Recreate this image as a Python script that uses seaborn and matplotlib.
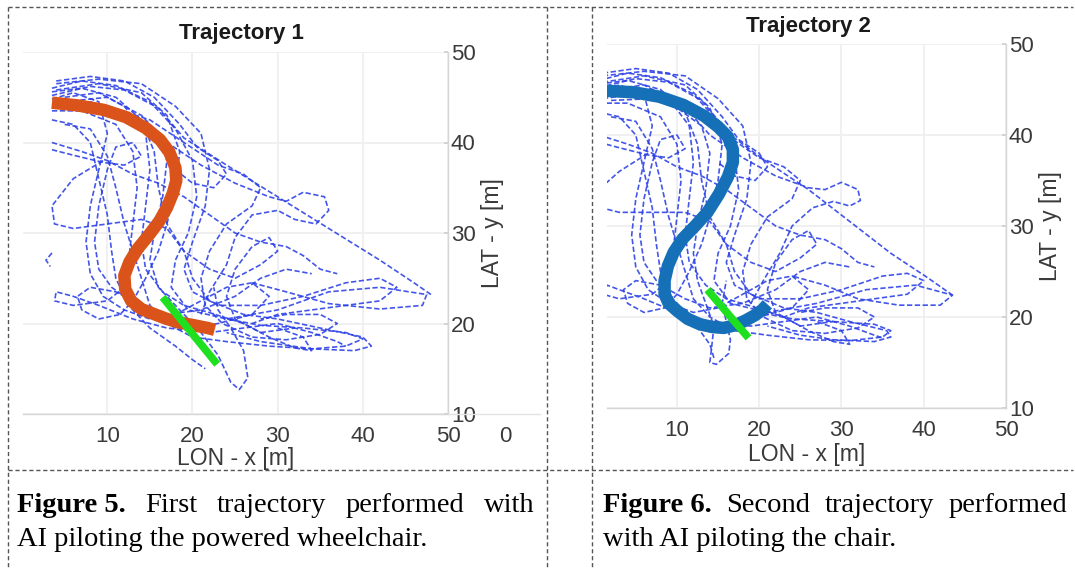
import matplotlib
matplotlib.use('Agg')
import matplotlib.pyplot as plt
import seaborn as sns
import pandas as pd
from matplotlib.lines import Line2D

W, H = 1075, 570

# ---------------- data (LON - x [m], LAT - y [m]) ----------------
xticks = [10, 20, 30, 40, 50]
yticks = [10, 20, 30, 40, 50]

# Trajectory 1: human driven runs (blue dashed)
t1_r01 = [(3.5, 46.0), (7, 46.8), (11, 46.3), (15, 44.5), (18, 41.5), (20, 38), (20.5, 34), (19.5, 30), (18, 27),
          (17.5, 24), (19.5, 21.5), (24, 20.5), (30, 21.5), (36, 23.5), (42, 24), (47.5, 23.2), (47, 22), (42, 21.6),
          (36, 22.2), (31, 23.5), (27, 24.5)]
t1_r02 = [(3.5, 45.2), (8, 46.2), (12, 45.8), (16, 43.8), (19, 40.5), (24, 37.5), (30, 34), (36, 30.5), (42, 27),
          (46, 24.5), (48, 23.2)]
t1_r03 = [(3.5, 44.8), (6, 45.5), (9, 44.5), (10, 41), (9, 37), (8, 33), (7.5, 29), (8, 25.5), (9.5, 23), (12, 21.5),
          (15, 20.5), (18, 21), (21, 22.5), (24, 24), (27, 24.5), (29, 23), (27, 21), (23, 20), (20, 19.5)]
t1_r04 = [(9.5, 38), (6, 36), (3.5, 33), (3.8, 31), (6, 30.5), (10, 31), (14, 31.5), (17, 30.5), (19, 28), (20, 25),
          (22, 22.5), (26, 21), (30, 20.5), (35, 19.5), (40, 18.5), (41, 17.5), (39, 17), (34, 17.2), (28, 18), (24, 19)]
t1_r05 = [(5, 44.5), (10, 45), (14, 43), (17, 40), (21, 37.5), (25, 35.5), (29, 34), (31, 33.5), (33, 34.5),
          (35.5, 34), (36, 32.5), (34.5, 31), (32, 31.5), (30, 32.5), (27, 32), (25, 29.5), (24, 26.5), (22, 23.5),
          (21, 21)]
t1_r06 = [(4, 44), (8, 44.5), (13, 43), (16, 41), (17, 38), (16.5, 34), (15.5, 30), (15, 27), (16, 24), (18.5, 21.5),
          (21, 19), (23, 16.5), (24.5, 13.5), (25.5, 12.7), (26.5, 14), (26, 17), (24.5, 19.5), (23, 21.5), (22.5, 24)]
t1_r07 = [(3.5, 43.5), (7, 43.5), (11, 42), (13, 39), (13.5, 35), (13, 31), (12.5, 27), (12, 24), (10, 22.5), (6, 22),
          (3.8, 22.5), (4, 23.5), (6, 23), (9, 22), (13, 20.5), (17, 19.5), (22, 19), (26, 19.5), (30, 20), (34, 19),
          (37, 18), (38, 17.5)]
t1_r08 = [(4, 46.5), (9, 47), (14, 46.5), (18, 44), (21, 41), (22, 37), (21.5, 33), (20, 29), (19, 26), (20, 23.5),
          (23, 22), (28, 22), (33, 23), (38, 24.5), (42, 25), (44, 24), (42, 22.5), (38, 22), (34, 21.5), (30, 21),
          (27, 20)]
t1_r09 = [(5, 42), (8, 41.5), (10, 38.5), (11, 35), (12, 31), (13, 28), (14, 25), (15, 22), (17, 20), (20, 18.5),
          (24, 18), (29, 17.5), (34, 17.2), (38, 17.5), (40, 18.3), (38, 19), (33, 19.5), (28, 19.8), (24, 20.5)]
t1_r10 = [(3.5, 40), (7, 39), (10, 38), (13, 36.5), (16, 35.5), (19, 34), (22, 32), (25, 30), (28, 29), (31, 28.5),
          (33, 27.5), (35, 26), (37, 25.5)]
t1_r11 = [(4, 45.8), (9, 46.5), (14, 45.5), (17, 43), (18.5, 39), (18, 35), (17, 31), (16, 28), (14.5, 25), (13, 22.5),
          (11.5, 21), (9, 20.5), (7, 21.5), (6.5, 23), (8, 24), (11, 23.5), (14, 22), (17, 21), (21, 21.5), (25, 23),
          (28, 25), (31, 26), (34, 25.5)]
t1_r12 = [(5, 43.8), (10, 44), (15, 42.5), (19, 40), (23, 37.5), (26, 36.5), (28, 35), (27, 33), (24, 31), (22, 28),
          (21, 25), (21.5, 22), (23.5, 20), (27, 18.5), (31, 18.2), (35, 18.8), (37, 20), (35, 21), (31, 21), (28, 20.5)]
t1_r13 = [(3.5, 27.8), (2.8, 27.0), (3.3, 26.3)]
t1_r14 = [(3.5, 45.6), (7, 46), (11, 45), (14, 42.5), (15.5, 39), (16, 35), (17, 31), (19, 28), (22, 26), (25, 25),
          (28, 26.5), (30, 28), (29, 29.5), (27, 28.5), (25, 26), (24, 23), (25, 20.5), (28, 19), (32, 19.5)]
t1_r15 = [(4, 46.8), (8, 47.3), (12, 46.8), (15.5, 45), (18.5, 42), (20.5, 39.5), (23, 38), (24, 36.5), (22.5, 35),
          (20, 35.5), (18, 37)]
t1_r16 = [(3.5, 42.5), (6, 42), (8, 40), (9, 36), (10, 32), (10.5, 28), (11, 25), (12.5, 22), (15, 19.5), (18, 17.5),
          (20, 16), (21.5, 15)]
t1_r17 = [(5, 45), (9, 45.5), (12, 44), (14.5, 41), (15, 37), (14.5, 33), (14, 29), (14.5, 26), (16.5, 23.5), (19, 22),
          (22, 21.2), (26, 20), (29, 18.5), (32, 17.3), (34, 17), (33, 18.5), (30, 19.5)]
t1_r18 = [(3.5, 39.2), (6, 38.6), (9.5, 37.8), (12, 37.5), (14, 38.5), (13, 40), (11, 39.5), (10, 37), (9, 33),
          (8.5, 29), (9, 26), (10.5, 24), (12, 23)]

# Trajectory 1: AI path (orange) and green marker
t1_ai = [(3.5, 44.4), (6.5, 44.1), (9.6, 43.6), (12.2, 42.8), (14.5, 41.6), (16.2, 40.3), (17.3, 38.9), (18, 37.2),
         (18.1, 35.8), (17.7, 34.4), (17, 32.8), (16.1, 31.3), (14.9, 29.8), (13.6, 28.3), (12.6, 26.8), (12, 25.3),
         (12.1, 23.8), (12.8, 22.5), (14, 21.6), (15.6, 21), (17, 20.5), (18.5, 20.1), (20.2, 19.8), (21.8, 19.5),
         (22.6, 19.3)]
t1_green = [(16.5, 22.9), (22.9, 15.5)]

# Trajectory 2: human driven runs (blue dashed)
t2_r01 = [(0.5, 46), (4, 46.8), (8, 46.3), (12, 44.5), (15, 41.5), (17, 38), (17.5, 34), (16.5, 30), (15, 27),
          (14.5, 24), (16.5, 21.5), (21, 20.5), (27, 21.5), (33, 23), (39, 23.5), (43.5, 22.4), (42, 21.3), (37, 21.3),
          (32, 22), (28, 23.5), (24, 24.5)]
t2_r02 = [(0.5, 45.2), (5, 46.2), (9, 45.8), (13, 43.8), (16.5, 40), (21, 37), (26, 34), (31, 30.5), (36, 27),
          (40.5, 24.3), (43.5, 22.4)]
t2_r03 = [(0.5, 44.8), (3, 45.5), (6, 44.5), (7, 41), (6, 37), (5, 33), (4.5, 29), (5, 25.5), (6.5, 23), (9, 21.5),
          (12, 20.5), (15, 21), (18, 22.5), (21, 24), (24, 24.5), (26, 23), (24, 21), (20, 20), (17, 19.5)]
t2_r04 = [(6.5, 38), (3, 36), (0.5, 34), (0.8, 32), (3, 31.5), (7, 31.5), (11, 31.5), (14, 30.5), (16, 28), (17, 25),
          (19, 22.5), (23, 21), (27, 20.5), (31, 19.5), (35.5, 18.5), (36, 17.8), (34, 17.3), (29, 17.5), (25, 18),
          (21, 19)]
t2_r05 = [(2, 44.5), (7, 45), (11, 43), (14, 40), (18, 37.5), (22, 35.5), (26, 34.2), (28, 34), (30, 34.8), (32, 34),
          (32.3, 32.8), (31, 32.2), (29, 32.7), (26.5, 32), (24, 30), (22.5, 27), (20.5, 24), (19, 21.5)]
t2_r06 = [(1, 44), (5, 44.5), (10, 43), (13, 41), (14, 38), (13.5, 34), (12.5, 30), (12, 27), (12.5, 24), (13.5, 21.5),
          (14.5, 19), (14.2, 16.5), (14, 15), (14.8, 14.8), (16.3, 16), (16.5, 17.5), (16, 19.5), (15.5, 21.5), (16, 24)]
t2_r07 = [(0.5, 43.5), (4, 43.5), (8, 42), (10, 39), (10.5, 35), (10, 31), (9.5, 27), (9, 24), (7, 22.5), (3, 22),
          (1, 22.5), (1.5, 23.5), (3, 23), (6, 22), (10, 20.5), (14, 19.5), (19, 19), (23, 19.5), (27, 20), (31, 19),
          (34, 18), (35, 17.7)]
t2_r08 = [(1, 46.5), (6, 47), (11, 46.5), (15, 44), (18, 41), (19, 37), (18.5, 33), (17, 29), (16, 26), (17, 23.5),
          (20, 22), (25, 22), (30, 23), (35, 24.5), (38, 24.8), (40, 24), (38, 22.5), (34, 22), (30, 21.5), (26, 21),
          (23, 20)]
t2_r09 = [(2, 42), (5, 41.5), (7, 38.5), (8, 35), (9, 31), (10, 28), (11, 25), (12, 22), (14, 20), (17, 18.5),
          (21, 18), (26, 17.5), (31, 17.4), (35, 17.8), (36, 18.5), (34, 19.2), (29, 19.5), (24, 19.8), (20, 20.5)]
t2_r10 = [(0.5, 40), (4, 39), (7, 38), (10, 36.5), (13, 35.5), (16, 34), (19, 32), (22, 30), (25, 29), (28, 28.5),
          (30, 27.5), (32, 26), (34, 25.5)]
t2_r11 = [(1, 45.8), (6, 46.5), (11, 45.5), (14, 43), (15.5, 39), (15, 35), (14, 31), (13, 28), (11.5, 25), (10, 22.5),
          (8.5, 21), (6, 20.5), (4, 21.5), (3.5, 23), (5, 24), (8, 23.5), (11, 22), (14, 21), (18, 21.5), (22, 23),
          (25, 25), (28, 26), (31, 25.5)]
t2_r12 = [(2, 43.8), (7, 44), (12, 42.5), (16, 40), (20, 37.5), (23, 36.5), (25, 35), (24, 33), (21, 31), (19, 28),
          (18, 25), (18.5, 22), (20.5, 20), (24, 18.5), (28, 18.2), (32, 18.8), (34, 20), (32, 21), (28, 21), (25, 20.5)]
t2_r13 = [(0.5, 45.6), (4, 46), (8, 45), (11, 42.5), (12.5, 39), (13, 35), (14, 31), (16, 28), (19, 26), (22, 25),
          (25, 26.5), (27, 28), (26, 29.5), (24, 28.5), (22, 26), (21, 23), (22, 20.5), (25, 19), (29, 19.5)]
t2_r14 = [(1, 46.8), (5, 47.3), (9, 46.8), (12.5, 45), (15.5, 42), (17.5, 39.5), (20, 38), (21, 36.5), (19.5, 35),
          (17, 35.5), (15, 37)]
t2_r15 = [(0.5, 42.5), (3, 42), (5, 40), (6, 36), (7, 32), (7.5, 28), (8, 25), (9.5, 22), (12, 19.5), (14, 17),
          (14.5, 15.5)]
t2_r16 = [(2, 45), (6, 45.5), (9, 44), (11.5, 41), (12, 37), (11.5, 33), (11, 29), (11.5, 26), (13.5, 23.5), (16, 22),
          (19, 21.2), (23, 20), (26, 18.5), (29, 17.3), (31, 17), (30, 18.5), (27, 19.5)]
t2_r17 = [(0.5, 39.2), (3, 38.6), (6.5, 37.8), (9, 37.5), (11, 38.5), (10, 40), (8, 39.5), (7, 37), (6, 33), (5.5, 29),
          (6, 26), (7.5, 24), (9, 23)]

# Trajectory 2: AI path (blue) and green marker
t2_ai = [(0.5, 44.9), (4.7, 44.7), (7.9, 44.2), (10.8, 43.3), (13.3, 42.1), (15, 40.9), (16.2, 39.8), (16.8, 38.4),
         (16.8, 37), (16.2, 35.4), (15.1, 33.5), (13.7, 31.5), (12.2, 30), (10.7, 28.6), (9.6, 27.1), (8.9, 25.6),
         (8.5, 24), (8.5, 22.5), (9, 21.5), (10, 20.7), (11.3, 19.8), (12.8, 19.2), (14.3, 18.9), (15.7, 18.8),
         (17.1, 19.1), (18.3, 19.6), (19.5, 20.2), (20.4, 20.8), (21, 21.4)]
t2_green = [(13.7, 23.0), (18.7, 17.7)]

t1_runs = [t1_r01, t1_r02, t1_r03, t1_r04, t1_r05, t1_r06, t1_r07, t1_r08, t1_r09, t1_r10, t1_r11, t1_r12, t1_r13,
           t1_r14, t1_r15, t1_r16, t1_r17, t1_r18]
t2_runs = [t2_r01, t2_r02, t2_r03, t2_r04, t2_r05, t2_r06, t2_r07, t2_r08, t2_r09, t2_r10, t2_r11, t2_r12, t2_r13,
           t2_r14, t2_r15, t2_r16, t2_r17]

captions = [
    ('Figure 5.', ['First', 'trajectory', 'performed', 'with'], 'AI piloting the powered wheelchair.'),
    ('Figure 6.', ['Second', 'trajectory', 'performed'], 'with AI piloting the chair.'),
]

# ---------------- style ----------------
sns.set_theme(style='white')
plt.rcParams['font.family'] = ['Liberation Sans', 'DejaVu Sans']

fig = plt.figure(figsize=(W / 100, H / 100), dpi=100)


def px_rect(x0, y0, x1, y1):
    # pixel box (top-left origin) -> figure fraction [left, bottom, width, height]
    return [x0 / W, 1 - y1 / H, (x1 - x0) / W, (y1 - y0) / H]


def runs_frame(runs):
    rows = []
    for i, run in enumerate(runs):
        for j, (x, y) in enumerate(run):
            rows.append((i, j, x, y))
    return pd.DataFrame(rows, columns=['run', 'order', 'x', 'y'])


def draw_panel(ax, runs, ai, ai_color, green, xlim, title, title_pos, ylab_x, xlab_y):
    df = runs_frame(runs)
    sns.lineplot(data=df, x='x', y='y', units='run', estimator=None, sort=False,
                 color='#2a3fe6', lw=1.2, linestyle=(0, (3.2, 1.5)), alpha=0.88, ax=ax)
    ai_df = pd.DataFrame(ai, columns=['x', 'y'])
    sns.lineplot(data=ai_df, x='x', y='y', estimator=None, sort=False, color=ai_color, lw=9,
                 solid_capstyle='butt', ax=ax)
    g_df = pd.DataFrame(green, columns=['x', 'y'])
    sns.lineplot(data=g_df, x='x', y='y', estimator=None, sort=False, color='#1ee01e', lw=5.5,
                 solid_capstyle='butt', ax=ax)

    ax.set_xlim(*xlim)
    ax.set_ylim(10, 50)
    ax.set_xticks(xticks)
    ax.set_yticks(yticks)
    ax.yaxis.tick_right()
    ax.yaxis.set_label_position('right')
    for s in ['top', 'left']:
        ax.spines[s].set_visible(False)
    for s in ['bottom', 'right']:
        ax.spines[s].set_color('#d6d6d6')
        ax.spines[s].set_linewidth(1.0)
    ax.grid(True, color='#efefef', lw=1.3)
    ax.set_axisbelow(True)
    ax.tick_params(axis='x', direction='in', length=3, color='#cfcfcf', pad=9, labelsize=16, labelcolor='#3a3a3a')
    ax.tick_params(axis='y', direction='in', length=3, color='#cfcfcf', pad=2, labelsize=16, labelcolor='#3a3a3a',
                   right=True, left=False)

    ax.set_xlabel('LON - x [m]', fontsize=16.5, color='#3a3a3a')
    ax.set_ylabel('LAT - y [m]', fontsize=16.5, color='#3a3a3a')
    ax.xaxis.set_label_coords(0.5, xlab_y)
    ax.xaxis.label.set_va('center')
    ax.yaxis.set_label_coords(ylab_x, 0.5)
    ax.yaxis.label.set_va('center')
    ax.text(title_pos[0], title_pos[1], title, transform=ax.transAxes, ha='center', va='center',
            fontsize=16, fontweight='bold', color='#1a1a1a')


ax1 = fig.add_axes(px_rect(23, 52, 448, 414))
draw_panel(ax1, t1_runs, t1_ai, '#d9531a', t1_green, (0.1, 50), 'Trajectory 1',
           (0.515, 1.052), (493 - 23) / 425, -(459 - 414) / 362)

ax2 = fig.add_axes(px_rect(607, 44, 1006, 408))
draw_panel(ax2, t2_runs, t2_ai, '#1670b8', t2_green, (1.5, 50), 'Trajectory 2',
           (0.506, 1.049), (1050 - 607) / 399, -(454 - 408) / 364)

# remnant of the neighbouring axes at the right of panel 1
fig.add_artist(Line2D([448 / W, 540 / W], [1 - 414 / H, 1 - 414 / H], transform=fig.transFigure,
                      color='#e2e2e2', lw=1.0))
fig.text(505 / W, 1 - 436 / H, '0', ha='center', va='center', fontsize=16, color='#3a3a3a')


# ---------------- table borders ----------------
def border(x0, y0, x1, y1):
    fig.add_artist(Line2D([x0 / W, x1 / W], [1 - y0 / H, 1 - y1 / H], transform=fig.transFigure,
                          color='#555555', lw=1.0, linestyle=(0, (3, 2))))


border(8, 7, 1073, 7)
border(8, 470, 1073, 470)
border(8, 7, 8, 570)
border(547, 7, 547, 570)
border(592, 7, 592, 570)

# ---------------- captions (first line justified) ----------------
cap_kw = dict(fontsize=20.5, family=['Liberation Serif', 'DejaVu Serif'], color='black', va='baseline')
renderer = fig.canvas.get_renderer()


def caption(x0, x1, base1, base2, bold, words, line2):
    texts = [fig.text(0, 1 - base1 / H, bold, fontweight='bold', **cap_kw)]
    texts += [fig.text(0, 1 - base1 / H, w, **cap_kw) for w in words]
    widths = [t.get_window_extent(renderer).width for t in texts]
    gap = (x1 - x0 - sum(widths)) / (len(texts) - 1)
    x = x0
    for t, w in zip(texts, widths):
        t.set_x(x / W)
        x += w + gap
    fig.text(x0 / W, 1 - base2 / H, line2, **cap_kw)


caption(17, 535, 512, 546, *captions[0])
caption(603, 1067, 512, 546, *captions[1])

fig.savefig('out.png', dpi=100)
